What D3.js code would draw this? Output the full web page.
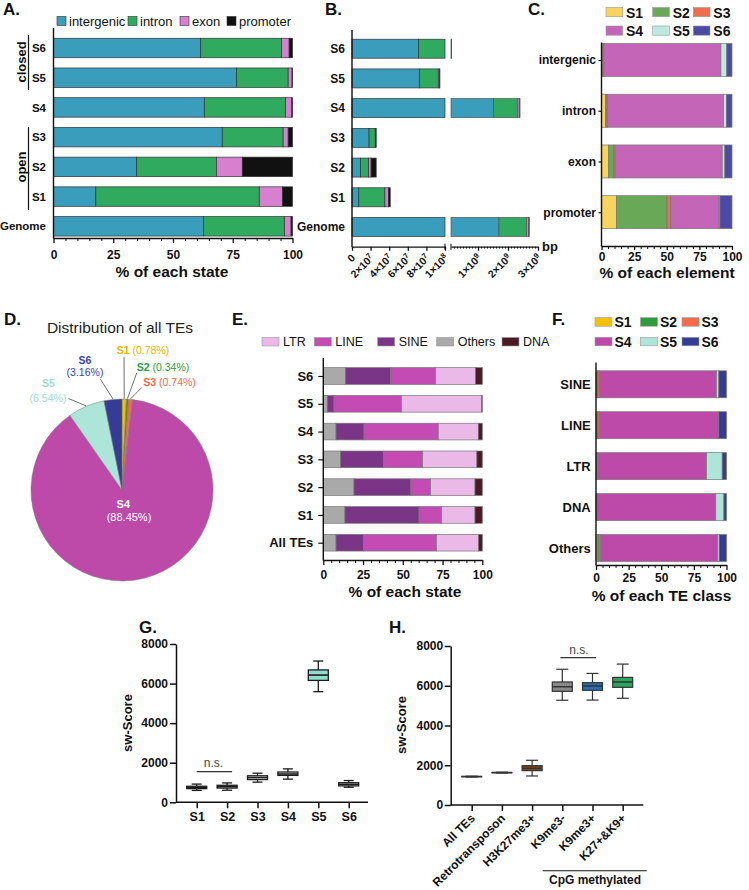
<!DOCTYPE html>
<html>
<head>
<meta charset="utf-8">
<script src="https://cdn.jsdelivr.net/npm/d3@7/dist/d3.min.js"></script>
<style>
html,body{margin:0;padding:0;background:#fff;}
svg text{font-family:"Liberation Sans",Arial,Helvetica,sans-serif;}
</style>
</head>
<body>
<svg id="fig" width="749" height="890" xmlns="http://www.w3.org/2000/svg"></svg>
<script>
// ================= DATA =================
// Panel A: % of each state by genomic element
const aCats = ["S6","S5","S4","S3","S2","S1","Genome"];
const elementKeys = ["intergenic","intron","exon","promoter"];
const aIntergenic = [61.6, 76.6, 63.1, 70.6, 34.8, 17.7, 62.7];
const aIntron     = [33.8, 21.6, 34.0, 25.5, 33.4, 68.4, 34.0];
const aExon       = [3.2, 1.6, 2.6, 2.1, 10.8, 9.7, 2.7];
const aPromoter   = [1.4, 0.2, 0.3, 1.8, 21.0, 4.2, 0.6];
const pctTicks = [0, 25, 50, 75, 100];

// Panel B: bp per state (broken axis)
const bIntergenic = [7.14e7, 7.24e7, 1.514e9, 1.836e7, 9.05e6, 7.27e6, 1.699e9];
const bIntron     = [3.92e7, 2.04e7, 8.16e8, 6.63e6, 8.68e6, 2.811e7, 9.21e8];
const bExon       = [3.7e6, 1.5e6, 6.2e7, 5.5e5, 2.81e6, 3.99e6, 7.3e7];
const bPromoter   = [1.6e6, 2.0e5, 7.0e6, 4.7e5, 5.46e6, 1.73e6, 1.6e7];
const bTicksLeft  = [0, 2e7, 4e7, 6e7, 8e7, 1e8];
const bTicksRight = [1e9, 2e9, 3e9];

// Panel C: % of each element by state
const cCats = ["intergenic","intron","exon","promoter"];
const stateKeys = ["S1","S2","S3","S4","S5","S6"];
const cS1 = [0.3, 3.0, 5.5, 11.6];
const cS2 = [0.3, 1.0, 3.8, 38.6];
const cS3 = [1.2, 0.4, 1.0, 2.8];
const cS4 = [89.7, 89.1, 82.2, 37.0];
const cS5 = [4.5, 2.3, 2.0, 0.7];
const cS6 = [4.0, 4.2, 5.5, 9.3];

// Panel D: distribution of all TEs
const dValues = [0.78, 0.34, 0.74, 88.45, 6.54, 3.16];
const dLabels = ["(0.78%)","(0.34%)","(0.74%)","(88.45%)","(6.54%)","(3.16%)"];

// Panel E: TE class composition of each state
const eCats = ["S6","S5","S4","S3","S2","S1","All TEs"];
const teKeys = ["Others","SINE","LINE","LTR","DNA"];
const eOthers = [14.0, 2.5, 8.0, 10.9, 19.3, 13.6, 8.0];
const eSINE   = [28.3, 4.2, 17.6, 27.0, 35.8, 46.6, 17.2];
const eLINE   = [28.3, 42.4, 46.7, 24.6, 12.4, 14.2, 45.9];
const eLTR    = [25.2, 50.5, 25.2, 34.1, 27.9, 21.0, 26.6];
const eDNA    = [4.2, 0.4, 2.5, 3.4, 4.6, 4.6, 2.3];
const eLegend = ["LTR","LINE","SINE","Others","DNA"];

// Panel F: state composition of each TE class
const fCats = ["SINE","LINE","LTR","DNA","Others"];
const fS1 = [0.7, 0.6, 0.3, 0.2, 1.5];
const fS2 = [0.8, 0.9, 0.5, 0.2, 0.8];
const fS3 = [1.0, 1.0, 0.7, 0.3, 1.3];
const fS4 = [89.8, 91.1, 83.2, 91.1, 89.5];
const fS5 = [1.8, 0.5, 12.0, 6.2, 1.3];
const fS6 = [5.9, 5.9, 3.3, 2.0, 5.6];

// Panel G: sw-Score per state (box plots)
const gCats = ["S1","S2","S3","S4","S5","S6"];
const gMin = [600, 610, 1020, 1170, 5590, 760];
const gQ1  = [690, 720, 1150, 1360, 6160, 830];
const gMed = [750, 790, 1250, 1430, 6430, 910];
const gQ3  = [810, 860, 1340, 1530, 6690, 990];
const gMax = [920, 980, 1470, 1690, 7140, 1100];

// Panel H: sw-Score per TE group
const hCats = ["All TEs","Retrotransposon","H3K27me3+","K9me3-","K9me3+","K27+&K9+"];
const hMin = [1410, 1610, 1460, 5270, 5280, 5370];
const hQ1  = [1422, 1622, 1730, 5720, 5770, 5920];
const hMed = [1430, 1630, 1845, 5950, 5990, 6190];
const hQ3  = [1438, 1638, 1980, 6190, 6155, 6420];
const hMax = [1450, 1650, 2250, 6830, 6620, 7090];
const scoreTicks = [0, 2000, 4000, 6000, 8000];

// ================= STYLE =================
const elementColors = ["#3a9dbb","#2faa5e","#d780cf","#111111"];
const cStateColors = ["#f8d35e","#69a856","#ee6c4f","#c465b8","#bde9de","#4b4aa6"];
const stateColors = ["#f2c200","#2e9b3e","#f26b4b","#bd4aa8","#ade5d8","#343c96"];
const teColors = {Others:"#a9a9a9", SINE:"#7b3586", LINE:"#c44bb3", LTR:"#ebb9e8", DNA:"#4b1b24"};
const gFills = ["#fff","#fff","#fff","#fff","#8fdccd","#fff"];
const hFills = ["#fff","#fff","#7b4a1e","#8a8a8a","#2a6db5","#2aa65e"];
const INK = "#111";

const svg = d3.select("#fig");
svg.append("rect").attr("width",749).attr("height",890).attr("fill","#fff");

function txt(g, x, y, s, size, weight, anchor, color) {
  return g.append("text").attr("x",x).attr("y",y).text(s)
    .style("font-size",size+"px").style("font-weight",weight||"normal")
    .attr("text-anchor",anchor||"start").style("fill",color||INK);
}
function panelLabel(t,x,y){ txt(svg,x,y,t,17,"bold"); }

function hStacked(g, cats, keys, arrays, colors, x, yPt, h, stroke, sw) {
  const rows = cats.map((c,i)=>{ const r={cat:c}; keys.forEach((k,j)=>r[k]=arrays[j][i]); return r;});
  const st = d3.stack().keys(keys)(rows);
  st.forEach((layer,j)=>{
    g.append("g").selectAll("rect").data(layer).join("rect")
      .attr("x",d=>x(d[0])).attr("width",d=>Math.max(0,x(d[1])-x(d[0])))
      .attr("y",d=>yPt(d.data.cat)-h/2).attr("height",h)
      .attr("fill",colors[j]).attr("stroke",stroke).attr("stroke-width",sw);
  });
}
function styleAx(a, size, weight, sw) {
  a.selectAll("line,path").attr("stroke",INK).attr("stroke-width",sw||1.3);
  a.selectAll("text").style("font-size",size+"px").style("font-weight",weight).style("fill",INK);
}
function pctAxis(g, x, y, tickSize, pad) {
  const a = g.append("g").attr("transform",`translate(0,${y})`)
    .call(d3.axisBottom(x).tickValues(pctTicks).tickSize(tickSize).tickSizeOuter(0).tickPadding(pad));
  const minor = d3.range(0,101,5).filter(v=>v%25!==0);
  const m = g.append("g").attr("transform",`translate(0,${y})`)
    .call(d3.axisBottom(x).tickValues(minor).tickSize(3).tickFormat(""));
  m.select(".domain").remove();
  styleAx(a,12,"bold"); styleAx(m,12,"bold",1);
  return a;
}
function catAxis(g, y, x0, tickSize, pad, size) {
  const a = g.append("g").attr("transform",`translate(${x0},0)`)
    .call(d3.axisLeft(y).tickSize(tickSize).tickPadding(pad));
  a.select(".domain").remove();
  styleAx(a,size,"bold",1.2);
  return a;
}
function vline(g,x,y1,y2,w){ g.append("line").attr("x1",x).attr("x2",x).attr("y1",y1).attr("y2",y2).attr("stroke",INK).attr("stroke-width",w||1.4); }
function hline(g,x1,x2,y,w,c){ g.append("line").attr("x1",x1).attr("x2",x2).attr("y1",y).attr("y2",y).attr("stroke",c||INK).attr("stroke-width",w||1.4); }

// ================= PANEL A =================
{
  const g = svg.append("g");
  panelLabel("A.", 3, 15);
  const x = d3.scaleLinear().domain([0,100]).range([53.5,292.5]);
  const y = d3.scalePoint().domain(aCats).range([48,226.3]);
  hStacked(g, aCats, elementKeys, [aIntergenic,aIntron,aExon,aPromoter], elementColors, x, y, 19.5, "#333", 0.7);
  pctAxis(g, x, 238, 5, 7);
  vline(g, 53.5, 28, 238.6);
  catAxis(g, y, 53.5, 0, 7.5, 11.5);
  txt(g, 172, 277, "% of each state", 15.5, "bold", "middle");
  // legend
  const lx = [57,128,180,227];
  elementKeys.forEach((k,i)=>{
    g.append("rect").attr("x",lx[i]).attr("y",16.5).attr("width",9).attr("height",9)
      .attr("fill",elementColors[i]).attr("stroke","#333").attr("stroke-width",0.6);
    txt(g, lx[i]+12, 25.5, k, 13, "normal");
  });
  // groups
  vline(g, 28.5, 35, 90, 1.2);
  vline(g, 28.5, 127, 210, 1.2);
  txt(g, 0, 0, "closed", 13, "bold", "middle").attr("transform","translate(25.5,62) rotate(-90)");
  txt(g, 0, 0, "open", 13, "bold", "middle").attr("transform","translate(25.5,167) rotate(-90)");
}

// ================= PANEL B =================
{
  const g = svg.append("g");
  panelLabel("B.", 325, 15);
  const xL = d3.scaleLinear().domain([0,1e8]).range([352,445]);
  const xR = d3.scaleLinear().domain([1e8,3e9]).range([451,538]);
  const y = d3.scalePoint().domain(aCats).range([48.7,227]);
  const h = 19;
  const rows = aCats.map((c,i)=>({cat:c, intergenic:bIntergenic[i], intron:bIntron[i], exon:bExon[i], promoter:bPromoter[i]}));
  const st = d3.stack().keys(elementKeys)(rows);
  st.forEach((layer,j)=>{
    const left = layer.filter(d=>d[0]<1e8);
    g.append("g").selectAll("rect").data(left).join("rect")
      .attr("x",d=>xL(d[0])).attr("width",d=>xL(Math.min(d[1],1e8))-xL(d[0]))
      .attr("y",d=>y(d.data.cat)-h/2).attr("height",h)
      .attr("fill",elementColors[j]).attr("stroke","#333").attr("stroke-width",0.7);
    const right = layer.filter(d=>d[1]>1e8);
    g.append("g").selectAll("rect").data(right).join("rect")
      .attr("x",d=>xR(Math.max(d[0],1e8))).attr("width",d=>xR(d[1])-xR(Math.max(d[0],1e8)))
      .attr("y",d=>y(d.data.cat)-h/2).attr("height",h)
      .attr("fill",elementColors[j]).attr("stroke","#555").attr("stroke-width",0.7);
  });
  const axY = 246.7;
  function sci(sel){
    sel.each(function(v){
      const t = d3.select(this); t.text(null);
      if (v===0){ t.text("0"); return; }
      const e = Math.floor(Math.log10(v)+1e-9), m = Math.round(v/Math.pow(10,e));
      t.append("tspan").text(m+"×10");
      t.append("tspan").attr("dy","-0.5em").style("font-size","7.5px").text(e);
    });
  }
  const aL = g.append("g").attr("transform",`translate(0,${axY})`)
    .call(d3.axisBottom(xL).tickValues(bTicksLeft).tickSize(4).tickSizeOuter(0));
  const aR = g.append("g").attr("transform",`translate(0,${axY})`)
    .call(d3.axisBottom(xR).tickValues(bTicksRight).tickSize(4).tickSizeOuter(0));
  const aRm = g.append("g").attr("transform",`translate(0,${axY})`)
    .call(d3.axisBottom(xR).tickValues(d3.range(2e8,3e9,1e8).filter(v=>v%1e9!==0)).tickSize(2).tickFormat(""));
  aRm.select(".domain").remove();
  [aL,aR].forEach(a=>{
    styleAx(a,10.5,"bold");
    a.selectAll(".tick text").call(sci).attr("y",null).attr("dy",null)
      .attr("text-anchor","end").attr("transform","translate(3.5,12) rotate(-45)");
  });
  styleAx(aRm,9,"bold",0.8);
  // break marks
  [445,451].forEach(bx=>vline(g,bx,axY-3,axY+3,1.1));
  vline(g, 352, 30, axY+0.6);
  catAxis(g, y, 352, 0, 7, 12);
  txt(g, 542, axY+4.5, "bp", 13, "bold");
}

// ================= PANEL C =================
{
  const g = svg.append("g");
  panelLabel("C.", 528, 15);
  const x = d3.scaleLinear().domain([0,100]).range([601.5,732]);
  const y = d3.scalePoint().domain(cCats).range([60,212.2]);
  hStacked(g, cCats, stateKeys, [cS1,cS2,cS3,cS4,cS5,cS6], cStateColors, x, y, 33, "#777", 0.7);
  pctAxis(g, x, 246, 4, 2);
  vline(g, 601.5, 42.5, 246.6);
  catAxis(g, y, 601.5, 3, 2.5, 12);
  txt(g, 667, 278, "% of each element", 15.5, "bold", "middle");
  const lx = [606,652.7,693.3], ly = [7.5,26];
  stateKeys.forEach((k,i)=>{
    const cx = lx[i%3], cy = ly[Math.floor(i/3)];
    g.append("rect").attr("x",cx).attr("y",cy).attr("width",16.7).attr("height",9.2)
      .attr("fill",cStateColors[i]).attr("stroke","#999").attr("stroke-width",0.6);
    txt(g, cx+20, cy+10, k, 14, "bold");
  });
}

// ================= PANEL D =================
{
  const g = svg.append("g");
  panelLabel("D.", 4, 325);
  txt(g, 120, 333, "Distribution of all TEs", 15.5, "normal", "middle", "#222");
  const cx = 122, cy = 490, r = 91;
  const pie = d3.pie().sort(null).value(d=>d)(dValues);
  const arc = d3.arc().innerRadius(0).outerRadius(r);
  const pg = g.append("g").attr("transform",`translate(${cx},${cy})`);
  pg.selectAll("path").data(pie).join("path").attr("d",arc)
    .attr("fill",(d,i)=>stateColors[i]).attr("stroke","#777").attr("stroke-width",0.5);
  const edge = d3.arc().innerRadius(r+0.5).outerRadius(r+0.5);
  const labelColors = ["#e8b800","#2e9b3e","#f26b4b","#ffffff","#a2dccf","#3a44a8"];
  // leader start points (annotation layout)
  const leadFrom = {0:[124,357],1:[136.7,373],2:[141.7,387.5],4:[68.5,398.5],5:[100,378.5]};
  Object.keys(leadFrom).forEach(k=>{
    const i = +k, p = edge.centroid(pie[i]);
    g.append("line").attr("x1",leadFrom[k][0]).attr("y1",leadFrom[k][1])
      .attr("x2",cx+p[0]).attr("y2",cy+p[1]).attr("stroke","#333").attr("stroke-width",0.7);
  });
  function inline(x,y,i){
    const t = txt(g, x, y, "", 10.5, "normal", "start", labelColors[i]);
    t.append("tspan").style("font-weight","bold").text(stateKeys[i]);
    t.append("tspan").text(" "+dLabels[i]);
  }
  inline(116.7, 354, 0);
  inline(136.7, 370.5, 1);
  inline(143.3, 385.5, 2);
  txt(g, 85, 364, stateKeys[5], 10.5, "bold", "middle", labelColors[5]);
  txt(g, 85, 376, dLabels[5], 10.5, "normal", "middle", labelColors[5]);
  txt(g, 48.3, 387, stateKeys[4], 10.5, "bold", "middle", labelColors[4]);
  txt(g, 48, 402, dLabels[4], 10.5, "normal", "middle", labelColors[4]);
  txt(g, 123.3, 507.5, stateKeys[3], 11, "bold", "middle", "#fff");
  txt(g, 129, 521, dLabels[3], 11, "normal", "middle", "#fff");
}

// ================= PANEL E =================
{
  const g = svg.append("g");
  panelLabel("E.", 232, 325);
  const x = d3.scaleLinear().domain([0,100]).range([323.3,482.3]);
  const y = d3.scalePoint().domain(eCats).range([376,542.7]);
  hStacked(g, eCats, teKeys, [eOthers,eSINE,eLINE,eLTR,eDNA], teKeys.map(k=>teColors[k]), x, y, 16.7, "#777", 0.7);
  pctAxis(g, x, 560, 5, 5);
  vline(g, 323.3, 358, 560.6);
  catAxis(g, y, 323.3, 5, 5, 13);
  txt(g, 405, 596.5, "% of each state", 15.5, "bold", "middle");
  const lx = [262,314.3,377.7,436.7,502];
  eLegend.forEach((k,i)=>{
    g.append("rect").attr("x",lx[i]).attr("y",337.5).attr("width",17).attr("height",8.5)
      .attr("fill",teColors[k]).attr("stroke","#999").attr("stroke-width",0.6);
    txt(g, lx[i]+21, 346.3, k, 12.5, "normal");
  });
}

// ================= PANEL F =================
{
  const g = svg.append("g");
  panelLabel("F.", 552, 325);
  const x = d3.scaleLinear().domain([0,100]).range([596,726.5]);
  const y = d3.scalePoint().domain(fCats).range([384.3,548]);
  hStacked(g, fCats, stateKeys, [fS1,fS2,fS3,fS4,fS5,fS6], stateColors, x, y, 27, "#777", 0.7);
  pctAxis(g, x, 565, 5, 3);
  vline(g, 596, 362.5, 565.6);
  catAxis(g, y, 596, 0, 5.3, 13);
  txt(g, 661.5, 600.5, "% of each TE class", 15.5, "bold", "middle");
  const lx = [595,640.5,682], ly = [317.7,337.3];
  stateKeys.forEach((k,i)=>{
    const cx = lx[i%3], cy = ly[Math.floor(i/3)];
    g.append("rect").attr("x",cx).attr("y",cy).attr("width",17).attr("height",8.5)
      .attr("fill",stateColors[i]).attr("stroke","#999").attr("stroke-width",0.6);
    txt(g, cx+19.5, cy+9.3, k, 14, "bold");
  });
}

// ================= BOX PLOTS =================
function boxPlot(g, cats, x, y, mins, q1s, meds, q3s, maxs, fills, bw, cw, stroke, sw) {
  const idx = cats.map((c,i)=>i);
  g.append("g").selectAll("line").data(idx).join("line")
    .attr("x1",i=>x(cats[i])).attr("x2",i=>x(cats[i])).attr("y1",i=>y(maxs[i])).attr("y2",i=>y(mins[i]))
    .attr("stroke",stroke).attr("stroke-width",sw);
  [mins,maxs].forEach(arr=>{
    g.append("g").selectAll("line").data(idx).join("line")
      .attr("x1",i=>x(cats[i])-cw/2).attr("x2",i=>x(cats[i])+cw/2).attr("y1",i=>y(arr[i])).attr("y2",i=>y(arr[i]))
      .attr("stroke",stroke).attr("stroke-width",sw);
  });
  g.append("g").selectAll("rect").data(idx).join("rect")
    .attr("x",i=>x(cats[i])-bw/2).attr("width",bw).attr("y",i=>y(q3s[i])).attr("height",i=>y(q1s[i])-y(q3s[i]))
    .attr("fill",i=>fills[i]).attr("stroke",stroke).attr("stroke-width",sw);
  g.append("g").selectAll("line").data(idx).join("line")
    .attr("x1",i=>x(cats[i])-bw/2).attr("x2",i=>x(cats[i])+bw/2).attr("y1",i=>y(meds[i])).attr("y2",i=>y(meds[i]))
    .attr("stroke",stroke).attr("stroke-width",sw+0.3);
}

// ================= PANEL G =================
{
  const g = svg.append("g");
  panelLabel("G.", 139, 633);
  const y = d3.scaleLinear().domain([0,8000]).range([802.3,644]);
  const x = d3.scalePoint().domain(gCats).range([196.7,348.7]);
  const ay = g.append("g").attr("transform","translate(176,0)")
    .call(d3.axisLeft(y).tickValues(scoreTicks).tickFormat(d3.format("d")).tickSize(6).tickSizeOuter(0).tickPadding(2));
  styleAx(ay,12,"bold",1.5);
  const ax = g.append("g").attr("transform","translate(0,802.3)")
    .call(d3.axisBottom(x).tickSize(6).tickSizeOuter(0).tickPadding(4));
  ax.select(".domain").remove();
  styleAx(ax,12.5,"bold",1.5);
  hline(g, 176, 368, 802.3, 1.5);
  boxPlot(g, gCats, x, y, gMin, gQ1, gMed, gQ3, gMax, gFills, 20, 10, "#1c1c1c", 1.3);
  txt(g, 0, 0, "sw-Score", 13, "bold", "middle").attr("transform","translate(132,723) rotate(-90)");
  hline(g, x("S1"), x("S2")+5, 771.7, 1.2, "#333");
  txt(g, 213.5, 767, "n.s.", 12, "normal", "middle", "#444");
}

// ================= PANEL H =================
{
  const g = svg.append("g");
  panelLabel("H.", 389, 633);
  const y = d3.scaleLinear().domain([0,8000]).range([805,646]);
  const x = d3.scalePoint().domain(hCats).range([471.7,622.7]);
  const ay = g.append("g").attr("transform","translate(450.7,0)")
    .call(d3.axisLeft(y).tickValues(scoreTicks).tickFormat(d3.format("d")).tickSize(6).tickSizeOuter(0).tickPadding(1.5));
  styleAx(ay,12,"bold",1.5);
  const ax = g.append("g").attr("transform","translate(0,805)")
    .call(d3.axisBottom(x).tickSize(6).tickSizeOuter(0));
  ax.select(".domain").remove();
  styleAx(ax,12,"bold",1.5);
  ax.selectAll(".tick text").attr("y",null).attr("dy",null).attr("text-anchor","end")
    .attr("transform","translate(3.5,14) rotate(-45)");
  hline(g, 450.7, 643.3, 805, 1.5);
  boxPlot(g, hCats, x, y, hMin, hQ1, hMed, hQ3, hMax, hFills, 20, 12, "#333", 1.2);
  txt(g, 0, 0, "sw-Score", 13, "bold", "middle").attr("transform","translate(406,725) rotate(-90)");
  hline(g, x("K9me3-")-2, x("K9me3+")+3.5, 657.7, 1.2, "#333");
  txt(g, 579, 653.5, "n.s.", 12, "normal", "middle", "#444");
  hline(g, 542.7, 646.7, 870.7, 1.1);
  txt(g, 595, 884, "CpG methylated", 12, "bold", "middle");
}
</script>
</body>
</html>
